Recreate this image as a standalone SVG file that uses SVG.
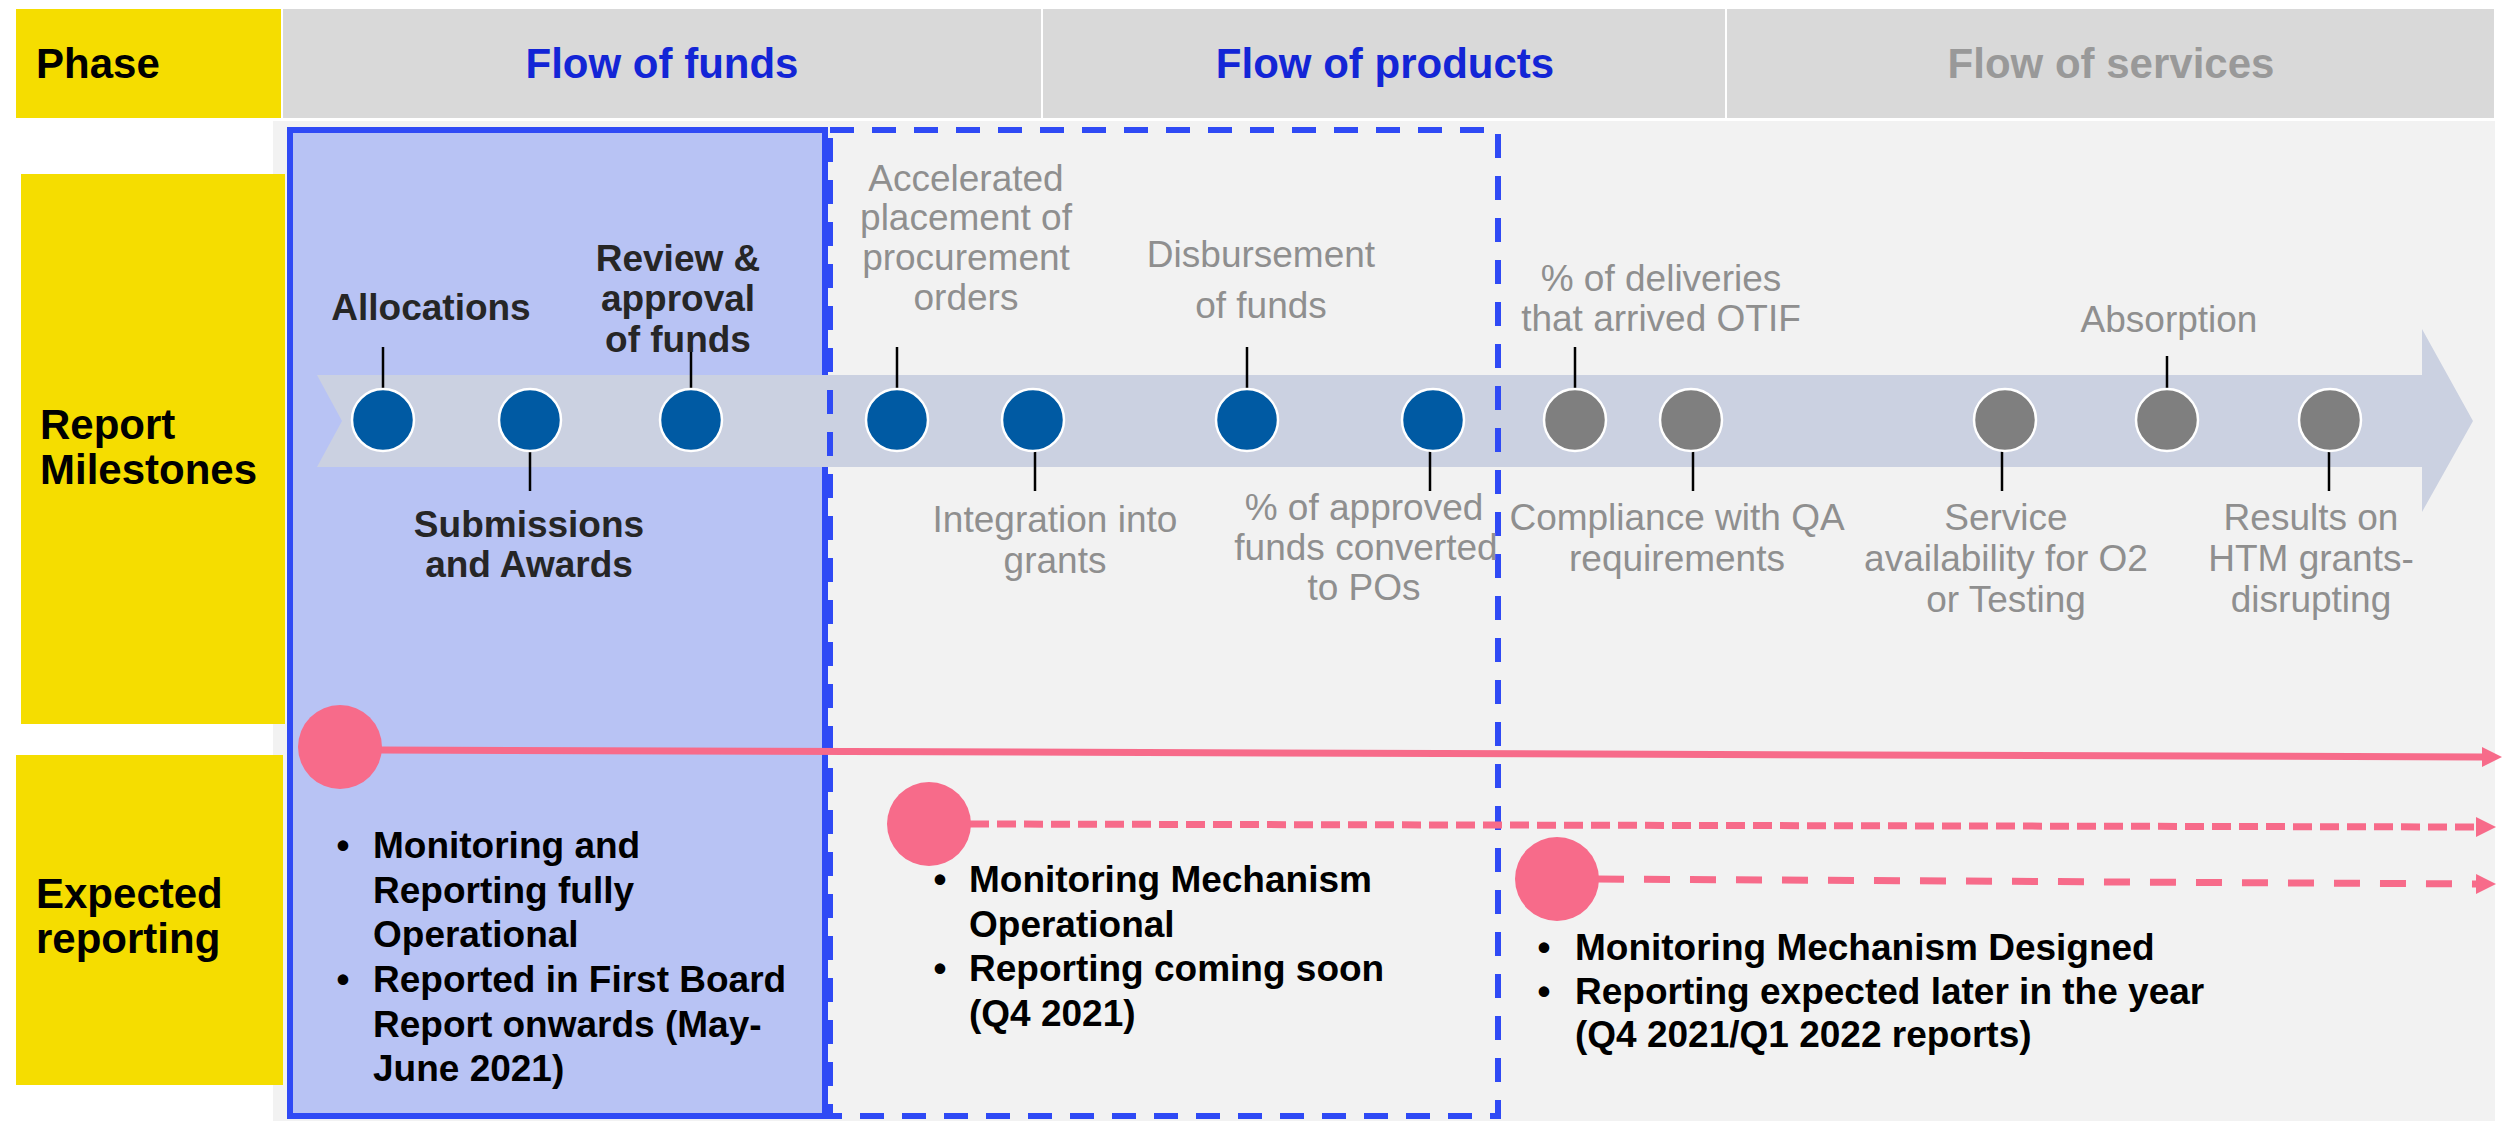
<svg xmlns="http://www.w3.org/2000/svg" width="2503" height="1121" viewBox="0 0 2503 1121">
<style>
  text { font-family: "Liberation Sans", Arial, sans-serif; }
  .hdr { font-size: 42px; font-weight: bold; text-anchor: middle; }
  .lbl { font-size: 42px; font-weight: bold; fill: #000; }
  .ms { font-size: 37px; font-weight: bold; fill: #262626; text-anchor: middle; }
  .gr { font-size: 37px; fill: #8F8F8F; text-anchor: middle; }
  .bl { font-size: 37px; font-weight: bold; fill: #000; }
  .bt { font-size: 37px; font-weight: bold; fill: #000; text-anchor: middle; }
  .yel { fill: #F5DD00; }
  .cell { fill: #D9D9D9; }
  .dotb { fill: #005AA3; stroke: #FFFFFF; stroke-width: 2.5; }
  .dotg { fill: #7F7F7F; stroke: #FFFFFF; stroke-width: 2.5; }
  .tick { stroke: #000; stroke-width: 2.5; }
  .pink { fill: #F76B8A; }
  .pl { stroke: #F76B8A; stroke-width: 7; fill: none; }
</style>
<defs>
  <marker id="ah" markerUnits="userSpaceOnUse" markerWidth="22" markerHeight="22" refX="0" refY="10" orient="auto">
    <path d="M0,0 L20,10 L0,20 Z" fill="#F76B8A"/>
  </marker>
</defs>

<rect x="0" y="0" width="2503" height="1121" fill="#FFFFFF"/>

<g id="header">
  <rect class="yel" x="16" y="9" width="265" height="109"/>
  <text class="lbl" x="36" y="78">Phase</text>
  <rect class="cell" x="283" y="9" width="758" height="109"/>
  <text class="hdr" x="662" y="78" fill="#1325D6">Flow of funds</text>
  <rect class="cell" x="1043" y="9" width="682" height="109"/>
  <text class="hdr" x="1385" y="78" fill="#1325D6">Flow of products</text>
  <rect class="cell" x="1727" y="9" width="767" height="109"/>
  <text class="hdr" x="2111" y="78" fill="#999999">Flow of services</text>
</g>

<rect id="background" x="273" y="121" width="2222" height="1000" fill="#F2F2F2"/>

<g id="row-labels">
  <rect class="yel" x="21" y="174" width="264" height="550"/>
  <text class="lbl" x="40" y="439">Report</text>
  <text class="lbl" x="40" y="484">Milestones</text>
  <rect class="yel" x="16" y="755" width="267" height="330"/>
  <text class="lbl" x="36" y="908">Expected</text>
  <text class="lbl" x="36" y="953">reporting</text>
</g>

<g id="funds-box">
  <rect x="290" y="130" width="535" height="986" fill="#B8C3F4" stroke="#2F4AF5" stroke-width="6"/>
</g>

<g id="timeline-arrow">
  <path d="M317,375 L2422,375 L2422,329 L2473,421 L2422,512 L2422,467 L317,467 L342,421 Z" fill="#CBD1E1"/>
</g>

<g id="products-box">
  <rect x="830" y="130" width="668" height="986" fill="none" stroke="#2F4AF5" stroke-width="6" stroke-dasharray="24 18"/>
</g>

<g id="connectors">
  <line class="tick" x1="383" y1="347" x2="383" y2="390"/>
  <line class="tick" x1="691" y1="347" x2="691" y2="390"/>
  <line class="tick" x1="897" y1="347" x2="897" y2="390"/>
  <line class="tick" x1="1247" y1="347" x2="1247" y2="390"/>
  <line class="tick" x1="1575" y1="347" x2="1575" y2="390"/>
  <line class="tick" x1="2167" y1="356" x2="2167" y2="390"/>
  <line class="tick" x1="530" y1="450" x2="530" y2="491"/>
  <line class="tick" x1="1035" y1="450" x2="1035" y2="491"/>
  <line class="tick" x1="1430" y1="450" x2="1430" y2="491"/>
  <line class="tick" x1="1693" y1="450" x2="1693" y2="491"/>
  <line class="tick" x1="2002" y1="450" x2="2002" y2="491"/>
  <line class="tick" x1="2329" y1="450" x2="2329" y2="491"/>
  <line class="pl" x1="380" y1="750" x2="2482" y2="757" marker-end="url(#ah)"/>
  <line class="pl" x1="970" y1="824" x2="2476" y2="827" stroke-dasharray="19 8" marker-end="url(#ah)"/>
  <line class="pl" x1="1598" y1="879" x2="2476" y2="884" stroke-dasharray="26 20" marker-end="url(#ah)"/>
</g>

<g id="m-allocations"><ellipse class="dotb" cx="383" cy="420" rx="31" ry="31"/><text class="ms" x="431" y="320">Allocations</text></g>
<g id="m-submissions"><ellipse class="dotb" cx="530" cy="420" rx="31" ry="31"/><text class="ms" x="529" y="537">Submissions</text><text class="ms" x="529" y="577">and Awards</text></g>
<g id="m-review"><ellipse class="dotb" cx="691" cy="420" rx="31" ry="31"/><text class="ms" x="678" y="271">Review &amp;</text><text class="ms" x="678" y="311">approval</text><text class="ms" x="678" y="352">of funds</text></g>
<g id="m-accelerated"><ellipse class="dotb" cx="897" cy="420" rx="31" ry="31"/><text class="gr" x="966" y="191">Accelerated</text><text class="gr" x="966" y="230">placement of</text><text class="gr" x="966" y="270">procurement</text><text class="gr" x="966" y="310">orders</text></g>
<g id="m-integration"><ellipse class="dotb" cx="1033" cy="420" rx="31" ry="31"/><text class="gr" x="1055" y="532">Integration into</text><text class="gr" x="1055" y="573">grants</text></g>
<g id="m-disbursement"><ellipse class="dotb" cx="1247" cy="420" rx="31" ry="31"/><text class="gr" x="1261" y="267">Disbursement</text><text class="gr" x="1261" y="318">of funds</text></g>
<g id="m-approved"><ellipse class="dotb" cx="1433" cy="420" rx="31" ry="31"/><text class="gr" x="1364" y="520">% of approved</text><text class="gr" x="1366" y="560">funds converted</text><text class="gr" x="1364" y="600">to POs</text></g>
<g id="m-deliveries"><ellipse class="dotg" cx="1575" cy="420" rx="31" ry="31"/><text class="gr" x="1661" y="291">% of deliveries</text><text class="gr" x="1661" y="331">that arrived OTIF</text></g>
<g id="m-compliance"><ellipse class="dotg" cx="1691" cy="420" rx="31" ry="31"/><text class="gr" x="1677" y="530">Compliance with QA</text><text class="gr" x="1677" y="571">requirements</text></g>
<g id="m-service"><ellipse class="dotg" cx="2005" cy="420" rx="31" ry="31"/><text class="gr" x="2006" y="530">Service</text><text class="gr" x="2006" y="571">availability for O2</text><text class="gr" x="2006" y="612">or Testing</text></g>
<g id="m-absorption"><ellipse class="dotg" cx="2167" cy="420" rx="31" ry="31"/><text class="gr" x="2169" y="332">Absorption</text></g>
<g id="m-results"><ellipse class="dotg" cx="2330" cy="420" rx="31" ry="31"/><text class="gr" x="2311" y="530">Results on</text><text class="gr" x="2311" y="571">HTM grants-</text><text class="gr" x="2311" y="612">disrupting</text></g>

<g id="r-funds">
  <ellipse class="pink" cx="340" cy="747" rx="42" ry="42"/>
  <text class="bt" x="343" y="858">•</text>
  <text class="bl" x="373" y="858">Monitoring and</text>
  <text class="bl" x="373" y="903">Reporting fully</text>
  <text class="bl" x="373" y="947">Operational</text>
  <text class="bt" x="343" y="992">•</text>
  <text class="bl" x="373" y="992">Reported in First Board</text>
  <text class="bl" x="373" y="1037">Report onwards (May-</text>
  <text class="bl" x="373" y="1081">June 2021)</text>
</g>

<g id="r-products">
  <ellipse class="pink" cx="929" cy="824" rx="42" ry="42"/>
  <text class="bt" x="940" y="892">•</text>
  <text class="bl" x="969" y="892">Monitoring Mechanism</text>
  <text class="bl" x="969" y="937">Operational</text>
  <text class="bt" x="940" y="981">•</text>
  <text class="bl" x="969" y="981">Reporting coming soon</text>
  <text class="bl" x="969" y="1026">(Q4 2021)</text>
</g>

<g id="r-services">
  <ellipse class="pink" cx="1557" cy="879" rx="42" ry="42"/>
  <text class="bt" x="1544" y="960">•</text>
  <text class="bl" x="1575" y="960">Monitoring Mechanism Designed</text>
  <text class="bt" x="1544" y="1004">•</text>
  <text class="bl" x="1575" y="1004">Reporting expected later in the year</text>
  <text class="bl" x="1575" y="1047">(Q4 2021/Q1 2022 reports)</text>
</g>
</svg>
